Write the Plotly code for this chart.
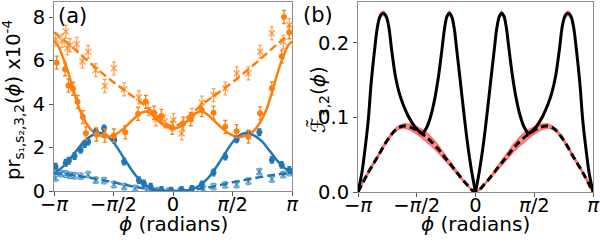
import math
import plotly.graph_objects as go

PI = math.pi

# ---------------- Panel (a) data ----------------
# orange circles (data, solid fit)
or_c_x = [-3.07, -2.85, -2.76, -2.64, -2.52, -2.38, -2.30, -2.02, -1.80, -1.56, -1.26, -0.92, -0.72,
          -0.50, -0.31, -0.02, 0.27, 0.47, 0.76, 1.07, 1.38, 1.68, 1.99, 2.30, 2.61, 2.87, 2.93, 3.07]
or_c_y = [5.9, 5.6, 4.85, 4.7, 4.1, 3.4, 2.65, 2.6, 2.55, 2.55, 2.7, 3.55, 4.1,
          3.6, 3.45, 2.9, 3.1, 3.3, 3.72, 3.6, 2.95, 2.75, 2.5, 3.57, 4.72, 6.18, 8.0, 7.3]
# orange crosses (data, dashed fit)
or_x_x = [-3.10, -2.93, -2.83, -2.79, -2.72, -2.54, -2.39, -2.24, -2.04, -1.80, -1.56, -1.29, -0.90,
          -0.65, -0.45, -0.22, 0.01, 0.23, 0.50, 0.76, 1.07, 1.38, 1.68, 1.99, 2.30, 2.61, 2.91, 3.07]
or_x_y = [6.97, 6.9, 7.33, 6.56, 6.7, 6.76, 5.95, 6.4, 5.56, 4.83, 5.64, 4.68, 4.31,
          3.75, 3.3, 3.2, 3.26, 2.65, 3.5, 4.06, 4.41, 4.72, 5.41, 5.41, 6.4, 7.25, 6.86, 7.63]
# blue circles
bl_c_x = [-3.10, -2.83, -2.75, -2.60, -2.44, -2.33, -2.24, -2.04, -1.82, -1.55, -1.29, -0.90, -0.77,
          -0.59, -0.30, -0.05, 0.23, 0.50, 0.76, 1.07, 1.38, 1.68, 1.99, 2.28, 2.61, 2.87, 3.07]
bl_c_y = [1.12, 1.30, 1.39, 1.61, 1.89, 2.16, 2.27, 2.73, 2.88, 2.35, 1.35, 0.5, 0.35,
          0.2, 0.05, 0.02, 0.05, 0.1, 0.3, 0.85, 1.58, 2.37, 2.62, 2.70, 1.43, 1.2, 0.97]
# blue crosses
bl_x_x = [-3.10, -2.95, -2.83, -2.72, -2.60, -2.44, -2.24, -2.04, -1.82, -1.56, -1.29, -1.0, -0.7,
          -0.4, -0.1, 0.2, 0.5, 0.8, 1.07, 1.38, 1.68, 1.99, 2.28, 2.61, 2.91, 3.07]
bl_x_y = [0.6, 0.8, 0.78, 0.72, 0.7, 0.68, 0.75, 0.5, 0.48, 0.3, 0.2, 0.12, 0.05,
          0.02, 0.0, 0.01, 0.05, 0.1, 0.2, 0.28, 0.3, 0.45, 0.89, 0.55, 0.75, 0.85]
err_orange = 0.3
err_blue = 0.15

# fitted curves
or_fit_x = [-PI, -3.04, -2.94, -2.81, -2.63, -2.46, -2.30, -2.12, -1.92, -1.72, -1.52, -1.30, -1.08, -0.88,
            -0.72, -0.55, -0.38, -0.20, 0.0, 0.20, 0.38, 0.55, 0.72, 0.88, 1.08, 1.30, 1.52, 1.72, 1.92,
            2.12, 2.30, 2.46, 2.63, 2.81, 2.94, 3.04, PI]
or_fit_y = [6.88, 6.7, 6.3, 5.7, 4.64, 3.72, 3.15, 2.75, 2.55, 2.48, 2.6, 2.88, 3.25, 3.55,
            3.65, 3.5, 3.22, 2.97, 2.86, 2.97, 3.22, 3.5, 3.65, 3.55, 3.25, 2.88, 2.6, 2.48, 2.55,
            2.75, 3.15, 3.72, 4.64, 5.7, 6.3, 6.7, 6.88]
or_dash_x = [-PI, -2.75, -2.36, -1.96, -1.57, -1.18, -0.79, -0.39, -0.15, 0.0,
             0.15, 0.39, 0.79, 1.18, 1.57, 1.96, 2.36, 2.75, PI]
or_dash_y = [7.3, 6.75, 6.15, 5.55, 5.0, 4.5, 4.0, 3.4, 3.05, 2.98,
             3.05, 3.4, 4.0, 4.5, 5.0, 5.55, 6.15, 6.75, 7.3]
bl_fit_x = [-PI, -2.95, -2.75, -2.55, -2.35, -2.15, -1.98, -1.80, -1.60, -1.40, -1.20, -1.0, -0.8, -0.6,
            -0.4, -0.2, 0.0, 0.2, 0.4, 0.6, 0.8, 1.0, 1.2, 1.4, 1.6, 1.8, 1.98, 2.15, 2.35, 2.55, 2.75, 2.95, PI]
bl_fit_y = [0.82, 1.05, 1.4, 1.85, 2.28, 2.55, 2.66, 2.6, 2.3, 1.8, 1.25, 0.75, 0.38, 0.15,
            0.04, 0.0, 0.0, 0.0, 0.04, 0.15, 0.38, 0.75, 1.25, 1.8, 2.3, 2.6, 2.66, 2.55, 2.28, 1.85, 1.4, 1.05, 0.82]
bl_dash_x = [-PI, -2.75, -2.36, -1.96, -1.57, -1.18, -0.79, -0.39, 0.0, 0.39, 0.79, 1.18, 1.57, 1.96, 2.36, 2.75, PI]
bl_dash_y = [0.82, 0.76, 0.66, 0.53, 0.4, 0.25, 0.12, 0.03, 0.0, 0.03, 0.12, 0.25, 0.4, 0.53, 0.66, 0.76, 0.82]

# ---------------- Panel (b) data ----------------
fs_x = [-PI, -3.04, -2.96, -2.87, -2.79, -2.70, -2.62, -2.55, -2.47, -2.39, -2.32, -2.24, -2.14, -2.04, -1.94,
        -1.80, -1.63, -1.50, -1.41,
        -1.30, -1.19, -1.09, -0.99, -0.90, -0.82, -0.76, -0.70, -0.64, -0.57, -0.50, -0.42, -0.32, -0.22, -0.11, 0.0,
        0.11, 0.22, 0.32, 0.42, 0.50, 0.57, 0.64, 0.70, 0.76, 0.82, 0.90, 0.99, 1.09, 1.19, 1.30, 1.41,
        1.50, 1.63, 1.80, 1.94, 2.04, 2.14, 2.24, 2.32, 2.39, 2.47, 2.55, 2.62, 2.70, 2.79, 2.87, 2.96, 3.04, PI]
fs_y = [0.0, 0.025, 0.055, 0.095, 0.146, 0.19, 0.222, 0.236, 0.24, 0.236, 0.222, 0.19, 0.155, 0.133, 0.118,
        0.102, 0.088, 0.081, 0.078,
        0.087, 0.103, 0.125, 0.155, 0.19, 0.222, 0.236, 0.24, 0.236, 0.22, 0.19, 0.155, 0.11, 0.068, 0.03, 0.0,
        0.03, 0.068, 0.11, 0.155, 0.19, 0.22, 0.236, 0.24, 0.236, 0.222, 0.19, 0.155, 0.125, 0.103, 0.087, 0.078,
        0.081, 0.088, 0.102, 0.118, 0.133, 0.155, 0.19, 0.222, 0.236, 0.24, 0.236, 0.222, 0.19, 0.146, 0.095, 0.055, 0.025, 0.0]
fs_kinks = [-1.41, 0.0, 1.41]
fd_x = [-PI, -2.88, -2.62, -2.35, -2.10, -1.92, -1.75, -1.55, -1.37, -1.19, -1.0, -0.83, -0.65, -0.48, -0.25, 0.0,
        0.25, 0.48, 0.65, 0.83, 1.0, 1.19, 1.37, 1.55, 1.75, 1.92, 2.10, 2.35, 2.62, 2.88, PI]
fd_y = [0.0, 0.025, 0.047, 0.07, 0.085, 0.0885, 0.087, 0.082, 0.076, 0.068, 0.058, 0.047, 0.036, 0.025, 0.011, 0.0,
        0.011, 0.025, 0.036, 0.047, 0.058, 0.068, 0.076, 0.082, 0.087, 0.0885, 0.085, 0.07, 0.047, 0.025, 0.0]
fd_band = [0.001, 0.002, 0.002, 0.002, 0.002, 0.003, 0.004, 0.005, 0.006, 0.006, 0.005, 0.004, 0.003, 0.002, 0.001, 0.001,
           0.001, 0.002, 0.003, 0.004, 0.005, 0.006, 0.006, 0.005, 0.004, 0.003, 0.002, 0.002, 0.002, 0.002, 0.001]
fs_band = 0.004

ORANGE = "#ff7f0e"
ORANGE_L = "rgba(255,127,14,0.7)"
BLUE = "#1f77b4"
BLUE_L = "rgba(31,119,180,0.7)"
PINK = "rgba(255,50,50,0.55)"
FONT = "DejaVu Sans"

fig = go.Figure()

def err(v, color):
    return dict(type="constant", value=v, color=color, thickness=1.3, width=2)

# panel (a)
fig.add_trace(go.Scatter(x=bl_dash_x, y=bl_dash_y, mode="lines", line=dict(color=BLUE, width=2.5, dash="8px,4px"),
                         line_shape="spline", xaxis="x", yaxis="y"))
fig.add_trace(go.Scatter(x=or_dash_x, y=or_dash_y, mode="lines", line=dict(color=ORANGE, width=2.5, dash="8px,4px"),
                         line_shape="spline", xaxis="x", yaxis="y"))
fig.add_trace(go.Scatter(x=bl_fit_x, y=bl_fit_y, mode="lines", line=dict(color=BLUE, width=2.5),
                         line_shape="spline", xaxis="x", yaxis="y"))
fig.add_trace(go.Scatter(x=or_fit_x, y=or_fit_y, mode="lines", line=dict(color=ORANGE, width=2.5),
                         line_shape="spline", xaxis="x", yaxis="y"))
fig.add_trace(go.Scatter(x=bl_x_x, y=bl_x_y, mode="markers",
                         marker=dict(symbol="x-thin", size=6, line=dict(color=BLUE_L, width=1.5)),
                         error_y=err(err_blue, BLUE_L), xaxis="x", yaxis="y"))
fig.add_trace(go.Scatter(x=or_x_x, y=or_x_y, mode="markers",
                         marker=dict(symbol="x-thin", size=6, line=dict(color=ORANGE_L, width=1.5)),
                         error_y=err(err_orange, ORANGE_L), xaxis="x", yaxis="y"))
fig.add_trace(go.Scatter(x=bl_c_x, y=bl_c_y, mode="markers", marker=dict(symbol="circle", size=6, color=BLUE),
                         error_y=err(err_blue, BLUE), xaxis="x", yaxis="y"))
fig.add_trace(go.Scatter(x=or_c_x, y=or_c_y, mode="markers", marker=dict(symbol="circle", size=6, color=ORANGE),
                         error_y=err(err_orange, ORANGE), xaxis="x", yaxis="y"))

# panel (b): split solid into segments at kinks
segs = []
cur_x, cur_y = [], []
for xv, yv in zip(fs_x, fs_y):
    cur_x.append(xv)
    cur_y.append(yv)
    if any(abs(xv - k) < 1e-9 for k in fs_kinks):
        segs.append((cur_x, cur_y))
        cur_x, cur_y = [xv], [yv]
segs.append((cur_x, cur_y))

# pink bands
fig.add_trace(go.Scatter(x=fd_x + fd_x[::-1],
                         y=[a + b for a, b in zip(fd_y, fd_band)] + [a - b for a, b in zip(fd_y, fd_band)][::-1],
                         mode="lines", fill="toself", fillcolor=PINK, line=dict(color=PINK, width=1.5),
                         line_shape="spline", xaxis="x2", yaxis="y2"))
for sx, sy in segs:
    fig.add_trace(go.Scatter(x=sx + sx[::-1],
                             y=[v + fs_band for v in sy] + [v - fs_band for v in sy][::-1],
                             mode="lines", fill="toself", fillcolor=PINK, line=dict(color="rgba(0,0,0,0)", width=0),
                             line_shape="spline", xaxis="x2", yaxis="y2"))
for sx, sy in segs:
    fig.add_trace(go.Scatter(x=sx, y=sy, mode="lines", line=dict(color="black", width=3),
                             line_shape="spline", xaxis="x2", yaxis="y2"))
fig.add_trace(go.Scatter(x=fd_x, y=fd_y, mode="lines", line=dict(color="black", width=3, dash="7px,4px"),
                         line_shape="spline", xaxis="x2", yaxis="y2"))

tickvals_x = [-PI, -PI / 2, 0, PI / 2, PI]
ticktext_x = ["\u2212<i>\u03c0</i>", "\u2212<i>\u03c0</i>/2", "0", "<i>\u03c0</i>/2", "<i>\u03c0</i>"]

axis_common = dict(showline=True, linecolor="#8c8c8c", linewidth=1, mirror=True, ticks="outside",
                   ticklen=4, tickcolor="#555", tickwidth=1, showgrid=False, zeroline=False, automargin=False,
                   ticklabeloverflow="allow", tickfont=dict(family=FONT, size=19.5, color="black"))

fig.update_layout(
    width=600, height=243, margin=dict(l=0, r=0, t=0, b=0, autoexpand=False),
    paper_bgcolor="white", plot_bgcolor="white", showlegend=False,
    xaxis=dict(domain=[54 / 600, 292 / 600], range=[-PI, PI], tickvals=tickvals_x, ticktext=ticktext_x,
               anchor="y", ticklabelstandoff=-8, **axis_common),
    yaxis=dict(domain=[52 / 243, 241 / 243], range=[0, 8.69], tickvals=[0, 2, 4, 6, 8],
               anchor="x", **axis_common),
    xaxis2=dict(domain=[358 / 600, 593 / 600], range=[-PI, PI], tickvals=tickvals_x, ticktext=ticktext_x,
                anchor="y2", ticklabelstandoff=-8, **axis_common),
    yaxis2=dict(domain=[51 / 243, 241 / 243], range=[0, 0.255], tickvals=[0.0, 0.1, 0.2],
                ticktext=["0.0", "0.1", "0.2"], anchor="x2", **axis_common),
    annotations=[
        dict(text="pr<sub>s\u2081,s\u2082,3,2</sub>(<i>\u03d5</i>) x10<sup>-4</sup>", x=13 / 600, y=1 - 100 / 243,
             xref="paper", yref="paper", textangle=-90, showarrow=False, xanchor="center", yanchor="middle",
             font=dict(family=FONT, size=19.5, color="black")),
        dict(text="<i>\u03d5</i> (radians)", x=173 / 600, y=5 / 243, xref="paper", yref="paper",
             showarrow=False, xanchor="center", yanchor="bottom", font=dict(family=FONT, size=20, color="black")),
        dict(text="<i>\u03d5</i> (radians)", x=475 / 600, y=5 / 243, xref="paper", yref="paper",
             showarrow=False, xanchor="center", yanchor="bottom", font=dict(family=FONT, size=20, color="black")),
        dict(text="<i>\u2131\u0303</i><sub>3,2</sub>(<i>\u03d5</i>)", x=318 / 600, y=1 - 100 / 243,
             xref="paper", yref="paper", textangle=-90, showarrow=False, xanchor="center", yanchor="middle",
             font=dict(family=FONT, size=20, color="black")),
        dict(text="(a)", x=56 / 600, y=1 - 2 / 243, xref="paper", yref="paper", showarrow=False,
             xanchor="left", yanchor="top", font=dict(family=FONT, size=21, color="black")),
        dict(text="(b)", x=301 / 600, y=1 - 1 / 243, xref="paper", yref="paper", showarrow=False,
             xanchor="left", yanchor="top", font=dict(family=FONT, size=21, color="black")),
    ],
)

fig.write_html("out.html", config={"displayModeBar": False},
               post_script="document.body.style.margin='0';document.body.style.overflow='hidden';")
